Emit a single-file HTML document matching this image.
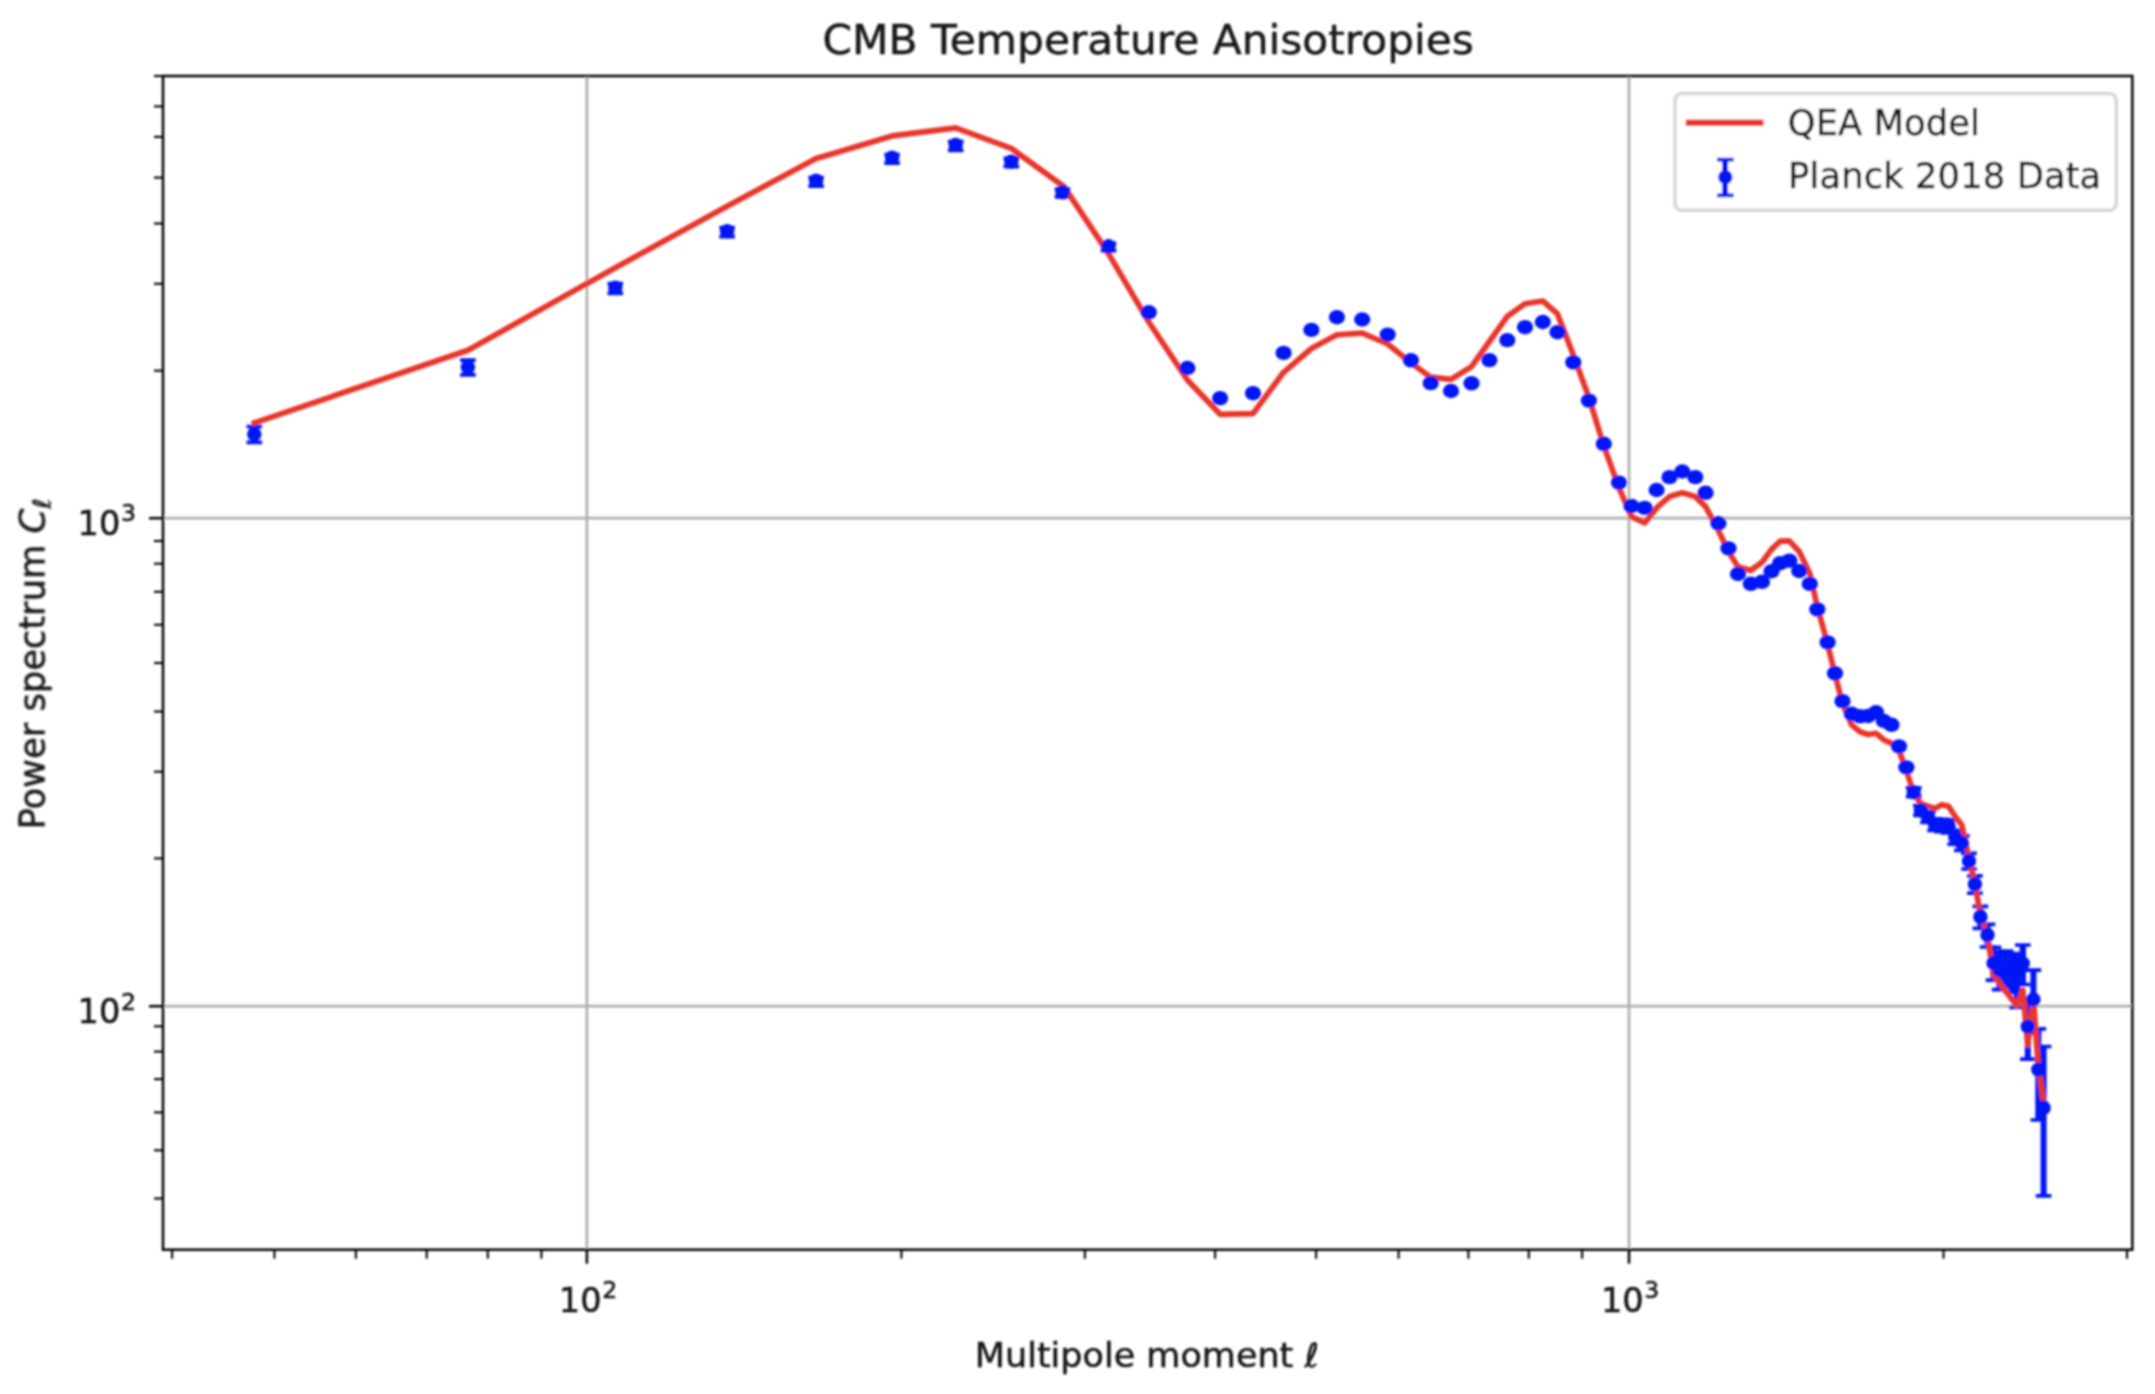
<!DOCTYPE html>
<html lang="en"><head><meta charset="utf-8"><title>CMB Temperature Anisotropies</title>
<style>html,body{margin:0;padding:0;background:#fff}body{width:2155px;height:1394px;overflow:hidden}svg{display:block}text{font-family:"DejaVu Sans","Liberation Sans",sans-serif;fill:#141414;stroke:#141414;stroke-width:0.45px}</style></head><body>
<svg width="2155" height="1394" viewBox="0 0 2155 1394">
<defs><clipPath id="axclip"><rect x="163.0" y="76.0" width="1969.3" height="1173.7"/></clipPath><filter id="soft" x="-2%" y="-2%" width="104%" height="104%"><feGaussianBlur stdDeviation="1.0"/></filter></defs>
<rect width="2155" height="1394" fill="#fff"/>
<g filter="url(#soft)">
<g stroke="#b0b0b0" stroke-width="2.8" fill="none">
<line x1="586.9" y1="76.0" x2="586.9" y2="1249.7"/>
<line x1="1629.0" y1="76.0" x2="1629.0" y2="1249.7"/>
<line x1="163.0" y1="518.2" x2="2132.3" y2="518.2"/>
<line x1="163.0" y1="1006.2" x2="2132.3" y2="1006.2"/>
</g>
<g clip-path="url(#axclip)">
<g stroke="#0018f5" stroke-width="6.0" fill="none">
<line x1="254.3" y1="426.5" x2="254.3" y2="442.3"/>
<line x1="467.9" y1="360.1" x2="467.9" y2="374.9"/>
<line x1="615.3" y1="283.5" x2="615.3" y2="293.3"/>
<line x1="727.1" y1="227.7" x2="727.1" y2="236.7"/>
<line x1="816.1" y1="177.5" x2="816.1" y2="186.1"/>
<line x1="892.1" y1="154.5" x2="892.1" y2="163.1"/>
<line x1="955.7" y1="141.7" x2="955.7" y2="150.3"/>
<line x1="1011.3" y1="158.3" x2="1011.3" y2="166.7"/>
<line x1="1062.5" y1="189.1" x2="1062.5" y2="196.9"/>
<line x1="1108.5" y1="243.3" x2="1108.5" y2="250.7"/>
<line x1="1148.8" y1="309.3" x2="1148.8" y2="315.4"/>
<line x1="1187.4" y1="365.0" x2="1187.4" y2="371.1"/>
<line x1="1220.1" y1="395.2" x2="1220.1" y2="401.3"/>
<line x1="1253.0" y1="390.2" x2="1253.0" y2="396.3"/>
<line x1="1283.6" y1="349.9" x2="1283.6" y2="356.0"/>
<line x1="1311.4" y1="326.9" x2="1311.4" y2="333.0"/>
<line x1="1336.9" y1="314.2" x2="1336.9" y2="320.3"/>
<line x1="1362.2" y1="316.5" x2="1362.2" y2="322.6"/>
<line x1="1387.7" y1="331.6" x2="1387.7" y2="337.7"/>
<line x1="1410.9" y1="357.3" x2="1410.9" y2="363.4"/>
<line x1="1430.7" y1="380.1" x2="1430.7" y2="386.2"/>
<line x1="1451.0" y1="388.0" x2="1451.0" y2="394.1"/>
<line x1="1471.5" y1="380.3" x2="1471.5" y2="386.4"/>
<line x1="1489.4" y1="357.1" x2="1489.4" y2="363.2"/>
<line x1="1507.3" y1="337.1" x2="1507.3" y2="343.2"/>
<line x1="1525.0" y1="324.2" x2="1525.0" y2="330.3"/>
<line x1="1542.8" y1="319.0" x2="1542.8" y2="325.1"/>
<line x1="1557.5" y1="329.2" x2="1557.5" y2="335.3"/>
<line x1="1573.3" y1="359.4" x2="1573.3" y2="365.5"/>
<line x1="1588.9" y1="397.6" x2="1588.9" y2="403.7"/>
<line x1="1603.8" y1="440.8" x2="1603.8" y2="446.9"/>
<line x1="1619.0" y1="479.6" x2="1619.0" y2="485.7"/>
<line x1="1631.5" y1="503.0" x2="1631.5" y2="509.1"/>
<line x1="1644.7" y1="504.9" x2="1644.7" y2="511.0"/>
<line x1="1656.6" y1="487.0" x2="1656.6" y2="493.1"/>
<line x1="1669.5" y1="474.1" x2="1669.5" y2="480.2"/>
<line x1="1682.3" y1="468.5" x2="1682.3" y2="474.6"/>
<line x1="1695.3" y1="474.1" x2="1695.3" y2="480.2"/>
<line x1="1705.6" y1="489.8" x2="1705.6" y2="495.9"/>
<line x1="1718.4" y1="520.3" x2="1718.4" y2="526.4"/>
<line x1="1728.5" y1="545.4" x2="1728.5" y2="551.5"/>
<line x1="1738.0" y1="571.0" x2="1738.0" y2="577.1"/>
<line x1="1750.8" y1="580.8" x2="1750.8" y2="586.9"/>
<line x1="1762.0" y1="578.8" x2="1762.0" y2="584.9"/>
<line x1="1771.5" y1="568.2" x2="1771.5" y2="574.3"/>
<line x1="1780.1" y1="560.2" x2="1780.1" y2="566.3"/>
<line x1="1789.3" y1="557.7" x2="1789.3" y2="563.8"/>
<line x1="1799.2" y1="568.0" x2="1799.2" y2="574.1"/>
<line x1="1809.8" y1="580.9" x2="1809.8" y2="587.0"/>
<line x1="1817.3" y1="606.4" x2="1817.3" y2="612.5"/>
<line x1="1827.6" y1="639.3" x2="1827.6" y2="645.6"/>
<line x1="1835.0" y1="670.1" x2="1835.0" y2="676.6"/>
<line x1="1842.5" y1="697.7" x2="1842.5" y2="704.6"/>
<line x1="1851.8" y1="710.3" x2="1851.8" y2="717.4"/>
<line x1="1860.0" y1="712.7" x2="1860.0" y2="720.0"/>
<line x1="1868.1" y1="712.3" x2="1868.1" y2="719.8"/>
<line x1="1876.0" y1="708.5" x2="1876.0" y2="716.3"/>
<line x1="1883.8" y1="717.0" x2="1883.8" y2="725.1"/>
<line x1="1891.5" y1="720.7" x2="1891.5" y2="729.0"/>
<line x1="1899.0" y1="742.2" x2="1899.0" y2="750.7"/>
<line x1="1906.4" y1="763.4" x2="1906.4" y2="771.5"/>
<line x1="1913.7" y1="787.8" x2="1913.7" y2="796.7"/>
<line x1="1920.9" y1="805.7" x2="1920.9" y2="815.4"/>
<line x1="1928.0" y1="811.8" x2="1928.0" y2="822.4"/>
<line x1="1935.0" y1="818.9" x2="1935.0" y2="830.3"/>
<line x1="1941.8" y1="819.4" x2="1941.8" y2="831.6"/>
<line x1="1948.6" y1="819.8" x2="1948.6" y2="832.8"/>
<line x1="1955.2" y1="830.3" x2="1955.2" y2="844.1"/>
<line x1="1961.8" y1="835.8" x2="1961.8" y2="850.4"/>
<line x1="1969.0" y1="853.4" x2="1969.0" y2="869.0"/>
<line x1="1974.9" y1="875.8" x2="1974.9" y2="893.1"/>
<line x1="1980.4" y1="906.3" x2="1980.4" y2="928.3"/>
<line x1="1987.5" y1="924.3" x2="1987.5" y2="947.0"/>
<line x1="1993.5" y1="947.3" x2="1993.5" y2="980.1" stroke-width="6.4"/>
<line x1="1999.6" y1="952.0" x2="1999.6" y2="989.7" stroke-width="6.4"/>
<line x1="2005.6" y1="951.0" x2="2005.6" y2="986.5" stroke-width="6.4"/>
<line x1="2011.6" y1="953.5" x2="2011.6" y2="992.5" stroke-width="6.4"/>
<line x1="2017.0" y1="954.0" x2="2017.0" y2="1007.5" stroke-width="6.4"/>
<line x1="2022.8" y1="945.0" x2="2022.8" y2="984.5" stroke-width="6.4"/>
<line x1="2027.8" y1="998.6" x2="2027.8" y2="1059.1"/>
<line x1="2033.4" y1="970.2" x2="2033.4" y2="1033.2"/>
<line x1="2038.3" y1="1028.8" x2="2038.3" y2="1120.0"/>
<line x1="2043.6" y1="1046.5" x2="2043.6" y2="1195.8"/>
</g>
<g stroke="#0018f5" stroke-width="3.7" fill="none">
<path d="M246.5 426.5h15.6M246.5 442.3h15.6"/>
<path d="M460.1 360.1h15.6M460.1 374.9h15.6"/>
<path d="M607.5 283.5h15.6M607.5 293.3h15.6"/>
<path d="M719.3 227.7h15.6M719.3 236.7h15.6"/>
<path d="M808.3 177.5h15.6M808.3 186.1h15.6"/>
<path d="M884.3 154.5h15.6M884.3 163.1h15.6"/>
<path d="M947.9 141.7h15.6M947.9 150.3h15.6"/>
<path d="M1003.5 158.3h15.6M1003.5 166.7h15.6"/>
<path d="M1054.7 189.1h15.6M1054.7 196.9h15.6"/>
<path d="M1100.7 243.3h15.6M1100.7 250.7h15.6"/>
<path d="M1905.9 787.8h15.6M1905.9 796.7h15.6"/>
<path d="M1913.1 805.7h15.6M1913.1 815.4h15.6"/>
<path d="M1920.2 811.8h15.6M1920.2 822.4h15.6"/>
<path d="M1927.2 818.9h15.6M1927.2 830.3h15.6"/>
<path d="M1934.0 819.4h15.6M1934.0 831.6h15.6"/>
<path d="M1940.8 819.8h15.6M1940.8 832.8h15.6"/>
<path d="M1947.4 830.3h15.6M1947.4 844.1h15.6"/>
<path d="M1954.0 835.8h15.6M1954.0 850.4h15.6"/>
<path d="M1961.2 853.4h15.6M1961.2 869.0h15.6"/>
<path d="M1967.1 875.8h15.6M1967.1 893.1h15.6"/>
<path d="M1972.6 906.3h15.6M1972.6 928.3h15.6"/>
<path d="M1979.7 924.3h15.6M1979.7 947.0h15.6"/>
<path d="M1985.7 947.3h15.6M1985.7 980.1h15.6"/>
<path d="M1991.8 952.0h15.6M1991.8 989.7h15.6"/>
<path d="M1997.8 951.0h15.6M1997.8 986.5h15.6"/>
<path d="M2003.8 953.5h15.6M2003.8 992.5h15.6"/>
<path d="M2009.2 954.0h15.6M2009.2 1007.5h15.6"/>
<path d="M2015.0 945.0h15.6M2015.0 984.5h15.6"/>
<path d="M2020.0 998.6h15.6M2020.0 1059.1h15.6"/>
<path d="M2025.6 970.2h15.6M2025.6 1033.2h15.6"/>
<path d="M2030.5 1028.8h15.6M2030.5 1120.0h15.6"/>
<path d="M2035.8 1046.5h15.6M2035.8 1195.8h15.6"/>
</g>
<polyline points="254.3,422.9 467.9,350.3 615.3,267.7 727.1,206.3 816.1,158.6 892.1,135.9 955.7,127.9 1011.3,148.4 1064.0,186.6 1108.5,253.6 1148.8,322.0 1187.4,380.0 1220.1,414.3 1253.0,413.6 1283.6,372.3 1311.4,348.5 1336.9,334.8 1362.2,333.1 1387.7,344.0 1410.9,362.8 1430.7,377.2 1451.0,379.4 1471.5,366.6 1489.4,341.5 1507.3,316.4 1525.0,303.8 1542.8,301.0 1557.5,313.9 1573.3,355.0 1588.9,397.4 1603.8,446.0 1619.0,487.8 1631.5,516.6 1644.7,522.9 1656.6,507.9 1669.5,496.6 1682.3,492.8 1695.3,496.6 1705.6,506.6 1718.4,530.5 1728.5,551.8 1738.0,566.7 1750.8,570.4 1762.0,562.2 1771.5,549.4 1780.1,541.2 1789.3,540.9 1799.2,551.5 1809.8,573.5 1817.3,606.6 1827.6,644.3 1835.0,674.4 1842.5,703.5 1851.8,725.1 1860.0,731.7 1868.1,734.5 1876.0,733.3 1883.8,739.8 1891.5,743.3 1899.0,750.4 1906.4,770.5 1913.7,793.5 1920.9,803.6 1928.0,806.1 1935.0,808.4 1941.8,804.7 1948.6,806.2 1955.2,816.5 1961.8,825.0 1969.0,858.5 1974.9,883.6 1980.4,914.7 1987.5,935.7 1993.5,975.0 1999.6,983.0 2005.6,991.0 2011.6,999.0 2017.0,1006.0 2022.8,990.0 2027.8,1045.0 2033.4,1000.0 2038.3,1066.0 2043.6,1103.0" fill="none" stroke="#e8352a" stroke-width="5.7" stroke-linejoin="round" stroke-linecap="square"/>
<g fill="#0018f5" stroke="none">
<circle cx="254.3" cy="434.2" r="7.2"/>
<circle cx="467.9" cy="367.3" r="7.2"/>
<circle cx="615.3" cy="287.7" r="7.2"/>
<circle cx="727.1" cy="231.3" r="7.2"/>
<circle cx="816.1" cy="180.7" r="7.2"/>
<circle cx="892.1" cy="157.7" r="7.2"/>
<circle cx="955.7" cy="144.9" r="7.2"/>
<circle cx="1011.3" cy="161.7" r="7.2"/>
<circle cx="1062.5" cy="192.3" r="7.2"/>
<circle cx="1108.5" cy="246.3" r="7.2"/>
<ellipse cx="1148.8" cy="312.3" rx="8.1" ry="7.2"/>
<ellipse cx="1187.4" cy="368.0" rx="8.1" ry="7.2"/>
<ellipse cx="1220.1" cy="398.2" rx="8.1" ry="7.2"/>
<ellipse cx="1253.0" cy="393.2" rx="8.1" ry="7.2"/>
<ellipse cx="1283.6" cy="352.9" rx="8.1" ry="7.2"/>
<ellipse cx="1311.4" cy="329.9" rx="8.1" ry="7.2"/>
<ellipse cx="1336.9" cy="317.2" rx="8.1" ry="7.2"/>
<ellipse cx="1362.2" cy="319.5" rx="8.1" ry="7.2"/>
<ellipse cx="1387.7" cy="334.6" rx="8.1" ry="7.2"/>
<ellipse cx="1410.9" cy="360.3" rx="8.1" ry="7.2"/>
<ellipse cx="1430.7" cy="383.1" rx="8.1" ry="7.2"/>
<ellipse cx="1451.0" cy="391.0" rx="8.1" ry="7.2"/>
<ellipse cx="1471.5" cy="383.3" rx="8.1" ry="7.2"/>
<ellipse cx="1489.4" cy="360.1" rx="8.1" ry="7.2"/>
<ellipse cx="1507.3" cy="340.1" rx="8.1" ry="7.2"/>
<ellipse cx="1525.0" cy="327.2" rx="8.1" ry="7.2"/>
<ellipse cx="1542.8" cy="322.0" rx="8.1" ry="7.2"/>
<ellipse cx="1557.5" cy="332.2" rx="8.1" ry="7.2"/>
<ellipse cx="1573.3" cy="362.4" rx="8.1" ry="7.2"/>
<ellipse cx="1588.9" cy="400.6" rx="8.1" ry="7.2"/>
<ellipse cx="1603.8" cy="443.8" rx="8.1" ry="7.2"/>
<ellipse cx="1619.0" cy="482.6" rx="8.1" ry="7.2"/>
<ellipse cx="1631.5" cy="506.0" rx="8.1" ry="7.2"/>
<ellipse cx="1644.7" cy="507.9" rx="8.1" ry="7.2"/>
<ellipse cx="1656.6" cy="490.0" rx="8.1" ry="7.2"/>
<ellipse cx="1669.5" cy="477.1" rx="8.1" ry="7.2"/>
<ellipse cx="1682.3" cy="471.5" rx="8.1" ry="7.2"/>
<ellipse cx="1695.3" cy="477.1" rx="8.1" ry="7.2"/>
<ellipse cx="1705.6" cy="492.8" rx="8.1" ry="7.2"/>
<ellipse cx="1718.4" cy="523.3" rx="8.1" ry="7.2"/>
<ellipse cx="1728.5" cy="548.4" rx="8.1" ry="7.2"/>
<ellipse cx="1738.0" cy="574.0" rx="8.1" ry="7.2"/>
<ellipse cx="1750.8" cy="583.8" rx="8.1" ry="7.2"/>
<ellipse cx="1762.0" cy="581.8" rx="8.1" ry="7.2"/>
<ellipse cx="1771.5" cy="571.2" rx="8.1" ry="7.2"/>
<ellipse cx="1780.1" cy="563.2" rx="8.1" ry="7.2"/>
<ellipse cx="1789.3" cy="560.7" rx="8.1" ry="7.2"/>
<ellipse cx="1799.2" cy="571.0" rx="8.1" ry="7.2"/>
<ellipse cx="1809.8" cy="583.9" rx="8.1" ry="7.2"/>
<ellipse cx="1817.3" cy="609.4" rx="8.1" ry="7.2"/>
<ellipse cx="1827.6" cy="642.4" rx="8.1" ry="7.2"/>
<ellipse cx="1835.0" cy="673.3" rx="8.1" ry="7.2"/>
<ellipse cx="1842.5" cy="701.1" rx="8.1" ry="7.2"/>
<ellipse cx="1851.8" cy="713.8" rx="8.1" ry="7.2"/>
<ellipse cx="1860.0" cy="716.3" rx="8.1" ry="7.2"/>
<ellipse cx="1868.1" cy="716.0" rx="8.1" ry="7.2"/>
<ellipse cx="1876.0" cy="712.3" rx="8.1" ry="7.2"/>
<ellipse cx="1883.8" cy="721.0" rx="8.1" ry="7.2"/>
<ellipse cx="1891.5" cy="724.8" rx="8.1" ry="7.2"/>
<ellipse cx="1899.0" cy="746.4" rx="8.1" ry="7.2"/>
<ellipse cx="1906.4" cy="767.4" rx="8.1" ry="7.2"/>
<circle cx="1913.7" cy="792.2" r="7.2"/>
<circle cx="1920.9" cy="810.5" r="7.2"/>
<circle cx="1928.0" cy="817.0" r="7.2"/>
<circle cx="1935.0" cy="824.5" r="7.2"/>
<circle cx="1941.8" cy="825.4" r="7.2"/>
<circle cx="1948.6" cy="826.2" r="7.2"/>
<circle cx="1955.2" cy="837.1" r="7.2"/>
<circle cx="1961.8" cy="843.0" r="7.2"/>
<circle cx="1969.0" cy="861.0" r="7.2"/>
<circle cx="1974.9" cy="884.1" r="7.2"/>
<circle cx="1980.4" cy="916.8" r="7.2"/>
<circle cx="1987.5" cy="934.8" r="7.2"/>
<circle cx="1993.5" cy="963.0" r="7.2"/>
<circle cx="1999.6" cy="970.0" r="7.2"/>
<circle cx="2005.6" cy="968.0" r="7.2"/>
<circle cx="2011.6" cy="972.0" r="7.2"/>
<circle cx="2017.0" cy="979.0" r="7.2"/>
<circle cx="2022.8" cy="963.5" r="7.2"/>
<circle cx="2027.8" cy="1026.6" r="7.2"/>
<circle cx="2033.4" cy="999.5" r="7.2"/>
<circle cx="2038.3" cy="1069.6" r="7.2"/>
<circle cx="2043.6" cy="1107.8" r="7.2"/>
</g>
</g>
<g stroke="#000" stroke-width="2.5" fill="none">
<line x1="586.9" y1="1249.7" x2="586.9" y2="1263.7"/>
<line x1="1629.0" y1="1249.7" x2="1629.0" y2="1263.7"/>
<line x1="163.0" y1="518.2" x2="149.0" y2="518.2"/>
<line x1="163.0" y1="1006.2" x2="149.0" y2="1006.2"/>
</g>
<g stroke="#000" stroke-width="2.1" fill="none">
<line x1="172.1" y1="1249.7" x2="172.1" y2="1258.7"/>
<line x1="274.4" y1="1249.7" x2="274.4" y2="1258.7"/>
<line x1="355.9" y1="1249.7" x2="355.9" y2="1258.7"/>
<line x1="426.7" y1="1249.7" x2="426.7" y2="1258.7"/>
<line x1="487.8" y1="1249.7" x2="487.8" y2="1258.7"/>
<line x1="541.4" y1="1249.7" x2="541.4" y2="1258.7"/>
<line x1="901.4" y1="1249.7" x2="901.4" y2="1258.7"/>
<line x1="1084.9" y1="1249.7" x2="1084.9" y2="1258.7"/>
<line x1="1215.1" y1="1249.7" x2="1215.1" y2="1258.7"/>
<line x1="1316.1" y1="1249.7" x2="1316.1" y2="1258.7"/>
<line x1="1398.6" y1="1249.7" x2="1398.6" y2="1258.7"/>
<line x1="1468.4" y1="1249.7" x2="1468.4" y2="1258.7"/>
<line x1="1528.8" y1="1249.7" x2="1528.8" y2="1258.7"/>
<line x1="1582.1" y1="1249.7" x2="1582.1" y2="1258.7"/>
<line x1="1943.5" y1="1249.7" x2="1943.5" y2="1258.7"/>
<line x1="2127.0" y1="1249.7" x2="2127.0" y2="1258.7"/>
<line x1="163.0" y1="76.0" x2="154.0" y2="76.0"/>
<line x1="163.0" y1="106.4" x2="154.0" y2="106.4"/>
<line x1="163.0" y1="136.9" x2="154.0" y2="136.9"/>
<line x1="163.0" y1="177.6" x2="154.0" y2="177.6"/>
<line x1="163.0" y1="223.5" x2="154.0" y2="223.5"/>
<line x1="163.0" y1="283.8" x2="154.0" y2="283.8"/>
<line x1="163.0" y1="370.7" x2="154.0" y2="370.7"/>
<line x1="163.0" y1="541.0" x2="154.0" y2="541.0"/>
<line x1="163.0" y1="563.7" x2="154.0" y2="563.7"/>
<line x1="163.0" y1="591.8" x2="154.0" y2="591.8"/>
<line x1="163.0" y1="624.8" x2="154.0" y2="624.8"/>
<line x1="163.0" y1="663.0" x2="154.0" y2="663.0"/>
<line x1="163.0" y1="711.5" x2="154.0" y2="711.5"/>
<line x1="163.0" y1="771.7" x2="154.0" y2="771.7"/>
<line x1="163.0" y1="858.4" x2="154.0" y2="858.4"/>
<line x1="163.0" y1="1026.3" x2="154.0" y2="1026.3"/>
<line x1="163.0" y1="1051.6" x2="154.0" y2="1051.6"/>
<line x1="163.0" y1="1079.1" x2="154.0" y2="1079.1"/>
<line x1="163.0" y1="1112.4" x2="154.0" y2="1112.4"/>
<line x1="163.0" y1="1150.3" x2="154.0" y2="1150.3"/>
<line x1="163.0" y1="1198.5" x2="154.0" y2="1198.5"/>
</g>
<rect x="163.0" y="76.0" width="1969.3" height="1173.7" fill="none" stroke="#000" stroke-width="2.5" stroke-linejoin="miter"/>
<rect x="1675.0" y="93.5" width="441.3" height="116.8" rx="7" ry="7" fill="#fff" fill-opacity="0.8" stroke="#ccc" stroke-opacity="0.8" stroke-width="3.5"/>
<line x1="1689.0" y1="122.8" x2="1760.2" y2="122.8" stroke="#e8352a" stroke-width="6.6" stroke-linecap="square"/>
<line x1="1725.0" y1="159.6" x2="1725.0" y2="195.2" stroke="#0018f5" stroke-width="6.0"/>
<circle cx="1725.3" cy="177.2" r="7.2" fill="#0018f5"/>
<path d="M1717.0 159.6h16.6M1717.0 195.3h16.6" stroke="#0018f5" stroke-width="3.8" fill="none"/>
<text transform="translate(1148.2 53.6) scale(1 0.955)" font-size="42.35" text-anchor="middle">CMB Temperature Anisotropies</text>
<text x="1787.8" y="135.1" font-size="35.29" letter-spacing="0.08">QEA Model</text>
<text x="1788.1" y="188.4" font-size="35.29" letter-spacing="0.12">Planck 2018 Data</text>
<text transform="translate(974.8 1367.4) scale(1 0.95)" font-size="35.0">Multipole moment <tspan font-style="oblique">ℓ</tspan></text>
<text transform="translate(44.5 829.4) rotate(-90)" font-size="35.29">Power spectrum <tspan font-style="oblique">C</tspan><tspan font-style="oblique" font-size="24.70" dy="5.8">ℓ</tspan></text>
<text x="558.8" y="1312.0" font-size="33.6">10<tspan font-size="23.6" dx="0.6" dy="-13.6">2</tspan></text>
<text x="1601.0" y="1312.0" font-size="33.6">10<tspan font-size="23.6" dx="0.6" dy="-13.6">3</tspan></text>
<text x="77.6" y="534.9" font-size="33.6">10<tspan font-size="23.6" dx="0.6" dy="-13.6">3</tspan></text>
<text x="77.6" y="1023.2" font-size="33.6">10<tspan font-size="23.6" dx="0.6" dy="-13.6">2</tspan></text>
</g>
</svg></body></html>
